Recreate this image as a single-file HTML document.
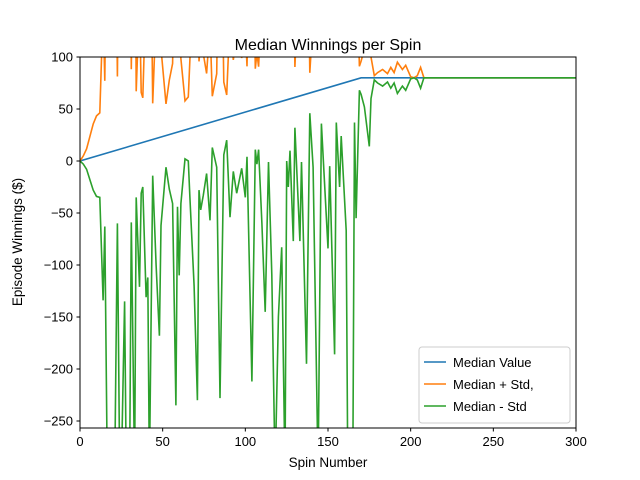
<!DOCTYPE html>
<html><head><meta charset="utf-8"><style>
html,body{margin:0;padding:0;background:#fff;overflow:hidden;width:640px;height:480px}
svg{display:block}
svg text{font-family:"Liberation Sans","DejaVu Sans",sans-serif;fill:#000}
</style></head><body>
<svg id="c" width="640" height="480" xmlns="http://www.w3.org/2000/svg">
<defs><clipPath id="clip"><rect x="80" y="57" width="496" height="371"/></clipPath></defs>
<rect width="640" height="480" fill="#fff"/>
<text x="328" y="50" font-size="16" text-anchor="middle">Median Winnings per Spin</text>
<g id="plot" clip-path="url(#clip)"></g>
<rect x="80" y="57" width="496" height="371" fill="none" stroke="#000" stroke-width="1"/>
<g id="axes"></g>
<text x="328" y="467" font-size="13.5" text-anchor="middle">Spin Number</text>
<text transform="translate(22,242) rotate(-90)" font-size="13.5" text-anchor="middle">Episode Winnings ($)</text>
<g>
<rect x="419" y="347" width="151" height="76" rx="3" fill="#fff" fill-opacity="0.8" stroke="#ccc"/>
<line x1="424" y1="362" x2="446" y2="362" stroke="#1f77b4" stroke-width="1.5"/>
<text x="453" y="367" font-size="13">Median Value</text>
<line x1="424" y1="384" x2="446" y2="384" stroke="#ff7f0e" stroke-width="1.5"/>
<text x="453" y="389" font-size="13">Median + Std,</text>
<line x1="424" y1="406" x2="446" y2="406" stroke="#2ca02c" stroke-width="1.5"/>
<text x="453" y="411" font-size="13">Median - Std</text>
</g>
</svg>
<script>
const xTicks=[0,50,100,150,200,250,300];
const yTicks=[100,50,0,-50,-100,-150,-200,-250];
const medianSpins=[0,170,300];
const medianVals=[0,80,80];
const spins=[0,2,4,6,8,10,12,14,15,16.5,19,21,22.6,24,25,27,28,30,31,33,34,36,37,38,40,41,42,44,46,48,49,52,54,56,58,59,60,61,63.5,65.5,66.5,69,71,72,73,74.6,76.6,78.6,80,82.7,84.7,87,88.7,90.7,92.7,94.8,97.8,100,101,104,106,107,108,110,112,114,116,118,120,122,124,125,126,127,129,130,133,134,137,139,141,144,146,150,151,154,155,157,158,161,162,164,165,166,167,169,170,172,175,176,178,180,183,186,188,190,192,195,197,200,202,204,206,208,210,220,250,300];
const lowerVals=[0,-3,-8,-18,-28,-34,-35,-134,-63,-300,-400,-300,-60,-300,-300,-135,-300,-300,-59,-300,-35,-121,-31,-25,-131,-112,-300,-14,-100,-168,-62,-6,-27,-41,-235,-44,-110,-41,2,0,-35,-120,-230,-28,-47,-33,-12,-57,13,-6,-228,6,20,-54,-10,-31,-7,-35,4,-212,11,-3,11,-60,-145,-1,-109,-300,-150,-83,-300,0,-25,10,-77,32,-77,-1,-195,46,-6,-300,36,-84,-5,-186,37,-25,24,-67,-300,-300,-300,37,-55,68,64,52,14,60,78,75,72,76,70,75,65,72,68,79,80,78,70,80,80,80,80,80];
const X=v=>80+v*496/300, Y=v=>161-v*1.04;
function med(s){for(let i=1;i<medianSpins.length;i++){if(s<=medianSpins[i]){const a=medianSpins[i-1],b=medianSpins[i];return medianVals[i-1]+(medianVals[i]-medianVals[i-1])*(s-a)/(b-a);}}return medianVals[medianVals.length-1];}
const NS='http://www.w3.org/2000/svg';
const plot=document.getElementById('plot'),axes=document.getElementById('axes');
function line(xs,ys,color,name){const p=document.createElementNS(NS,'polyline');
p.setAttribute('points',xs.map((x,i)=>X(x).toFixed(1)+','+Y(ys[i]).toFixed(1)).join(' '));
p.setAttribute('fill','none');p.setAttribute('stroke',color);p.setAttribute('stroke-width','1.6');


plot.appendChild(p);}
const upperVals=spins.map((s,i)=>2*med(s)-lowerVals[i]);
line(medianSpins,medianVals,'#1f77b4','median-line');
line(spins,upperVals,'#ff7f0e','median-plus-std-line');
line(spins,lowerVals,'#2ca02c','median-minus-std-line');
xTicks.forEach(t=>{const l=document.createElementNS(NS,'line');l.setAttribute('x1',X(t));l.setAttribute('x2',X(t));l.setAttribute('y1',428);l.setAttribute('y2',431.5);l.setAttribute('stroke','#000');


axes.appendChild(l);
const tx=document.createElementNS(NS,'text');tx.setAttribute('x',X(t));tx.setAttribute('y',446);tx.setAttribute('font-size','13');tx.setAttribute('text-anchor','middle');tx.textContent=t;


axes.appendChild(tx);});
yTicks.forEach(t=>{const l=document.createElementNS(NS,'line');l.setAttribute('x1',76.5);l.setAttribute('x2',80);l.setAttribute('y1',Y(t));l.setAttribute('y2',Y(t));l.setAttribute('stroke','#000');


axes.appendChild(l);
const tx=document.createElementNS(NS,'text');tx.setAttribute('x',73);tx.setAttribute('y',Y(t)+4.5);tx.setAttribute('font-size','13');tx.setAttribute('text-anchor','end');tx.textContent=t<0?'\u2212'+(-t):t;


axes.appendChild(tx);});
</script>
</body></html>
